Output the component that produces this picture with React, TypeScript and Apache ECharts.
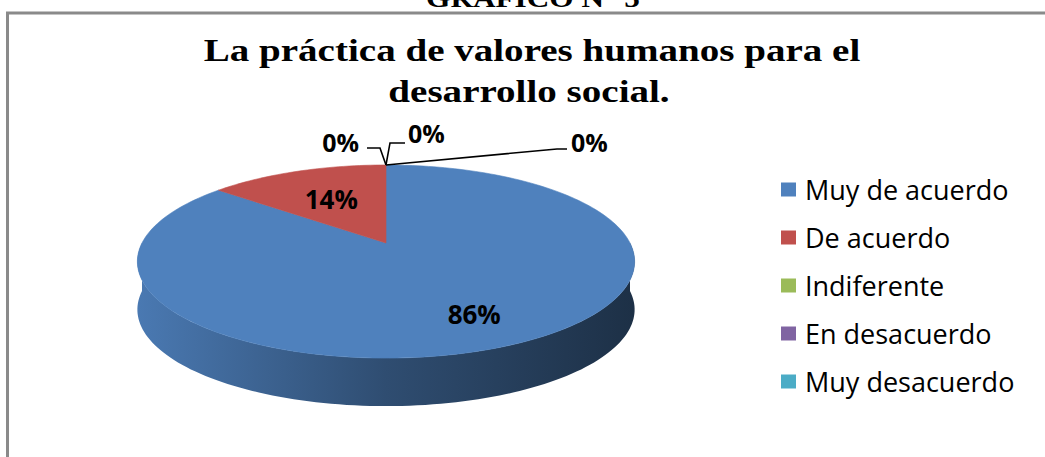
import React, { useEffect, useRef } from "react";
import * as echarts from "echarts";

// ---- data ----
const categories = ["Muy de acuerdo", "De acuerdo", "Indiferente", "En desacuerdo", "Muy desacuerdo"];
const values = [86, 14, 0, 0, 0];
const colors = ["#4f81bd", "#c0504d", "#9bbb59", "#8064a2", "#4bacc6"];
const titleLines = ["La práctica de valores humanos para el", "desarrollo social."];
const captionText = "GRAFICO N° 5";

// ---- layout (not data) ----
const CX = 386;
const CY = 243;
const RY = 93;
const RX = 244;
const K = 0.192;
const DEPTH = 48;
const insideLabelRadius = [0.74, 0.58, 0.6, 0.6, 0.6];
// leader lines for zero slices: points relative to slice anchor, then label offset + align
const zeroLabelLayout: Record<number, { pts: number[][]; label: number[]; align: string }> = {
  2: { pts: [[0, 0], [-6, -17], [-19, -17]], label: [-27, -23], align: "right" },
  3: { pts: [[0, 0], [4, -22], [19, -22]], label: [22, -32], align: "left" },
  4: { pts: [[0, 0], [171, -16], [181, -16]], label: [185, -23], align: "left" },
};

const total = values.reduce((a, b) => a + b, 0);
const startAngles: number[] = [];
{
  let acc = 90;
  values.forEach((v) => {
    startAngles.push(acc);
    acc -= (v / total) * 360;
  });
}

function project(f: number, deg: number): number[] {
  const t = (deg * Math.PI) / 180;
  const s = Math.sin(t);
  const c = Math.cos(t);
  const d = 1 + K * f * s;
  return [CX + (RX * f * c) / d, CY - (RY * f * s) / d];
}

function shade(hex: string, k: number): string {
  const n = parseInt(hex.slice(1), 16);
  const r = Math.round(((n >> 16) & 255) * k);
  const g = Math.round(((n >> 8) & 255) * k);
  const b = Math.round((n & 255) * k);
  return `rgb(${r},${g},${b})`;
}

const labelFont = { fontFamily: "Open Sans", fontWeight: "bold" as const, fill: "#000" };

function renderItem(params: any, api: any) {
  const i = params.dataIndex;
  const v = api.value(0) as number;
  const span = (v / total) * 360;
  const a0 = startAngles[i];
  const a1 = a0 - span;
  const children: any[] = [];
  const pct = Math.round((v / total) * 100) + "%";
  if (span > 0) {
    const steps = Math.max(2, Math.ceil(span / 1.5));
    const pts: number[][] = [[CX, CY]];
    for (let s = 0; s <= steps; s++) pts.push(project(1, a0 - (span * s) / steps));
    children.push({
      type: "polygon",
      z2: 5,
      shape: { points: pts },
      style: { fill: colors[i], stroke: colors[i], lineWidth: 0.6 },
    });
    for (const k of [-2, -1, 0, 1]) {
      const lo = Math.max(a1, -180 + 360 * k);
      const hi = Math.min(a0, 360 * k);
      if (hi > lo) {
        const n = Math.max(2, Math.ceil((hi - lo) / 1.5));
        const top: number[][] = [];
        for (let s = 0; s <= n; s++) top.push(project(1, hi - ((hi - lo) * s) / n));
        const bottom = top.map((p) => [p[0], p[1] + DEPTH]).reverse();
        children.push({
          type: "polygon",
          z2: 1,
          shape: { points: top.concat(bottom) },
          style: {
            fill: {
              type: "linear",
              x: CX - RX * 1.02,
              y: 0,
              x2: CX + RX * 1.02,
              y2: 0,
              global: true,
              colorStops: [
                { offset: 0, color: shade(colors[i], 0.94) },
                { offset: 0.5, color: shade(colors[i], 0.6) },
                { offset: 1, color: shade(colors[i], 0.37) },
              ],
            },
          },
        });
      }
    }
    const mid = a0 - span / 2;
    const lp = project(insideLabelRadius[i], mid);
    children.push({
      type: "text",
      z2: 10,
      x: lp[0],
      y: lp[1],
      style: { ...labelFont, fontSize: 26, text: pct, align: "center", verticalAlign: "middle" },
    });
  } else {
    const lay = zeroLabelLayout[i];
    if (lay) {
      const anchor = project(1, a0);
      children.push({
        type: "polyline",
        z2: 9,
        shape: { points: lay.pts.map((p) => [anchor[0] + p[0], anchor[1] + p[1]]) },
        style: { stroke: "#000", lineWidth: 1.6, fill: "none" },
      });
      children.push({
        type: "text",
        z2: 10,
        x: anchor[0] + lay.label[0],
        y: anchor[1] + lay.label[1],
        style: { ...labelFont, fontSize: 25, text: pct, align: lay.align, verticalAlign: "middle" },
      });
    }
  }
  return { type: "group", children };
}

export default function App() {
  const ref = useRef<HTMLDivElement>(null);
  useEffect(() => {
    if (!ref.current) return;
    const chart = echarts.init(ref.current, undefined, { renderer: "svg" });
    const serif = "'Liberation Serif', 'Times New Roman', serif";
    chart.setOption({
      animation: false,
      backgroundColor: "#ffffff",
      legend: {
        orient: "vertical",
        left: 776,
        top: 171,
        itemWidth: 15,
        itemHeight: 14,
        itemGap: 21,
        icon: "rect",
        selectedMode: false,
        data: categories,
        textStyle: { fontFamily: "Open Sans", fontSize: 27, lineHeight: 27, color: "#000", padding: [0, 0, 0, 4] },
      },
      graphic: [
        { type: "line", shape: { x1: 7.5, y1: 13, x2: 7.5, y2: 457 }, style: { stroke: "#8a8a8a", lineWidth: 3 } },
        { type: "line", shape: { x1: 6, y1: 13, x2: 1045, y2: 13 }, style: { stroke: "#8a8a8a", lineWidth: 3 } },
        {
          type: "text",
          x: 533,
          y: -1,
          scaleX: 1.25,
          style: { text: captionText, fontFamily: serif, fontWeight: "bold", fontSize: 25, fill: "#000", align: "center", verticalAlign: "middle" },
        },
        {
          type: "text",
          x: 532,
          y: 51,
          scaleX: 1.26,
          style: { text: titleLines[0], fontFamily: serif, fontWeight: "bold", fontSize: 31, fill: "#000", align: "center", verticalAlign: "middle" },
        },
        {
          type: "text",
          x: 529,
          y: 92,
          scaleX: 1.26,
          style: { text: titleLines[1], fontFamily: serif, fontWeight: "bold", fontSize: 31, fill: "#000", align: "center", verticalAlign: "middle" },
        },
      ],
      series: [
        {
          type: "pie",
          name: "legend",
          radius: 0,
          center: [-50, -50],
          silent: true,
          label: { show: false },
          labelLine: { show: false },
          data: categories.map((c, i) => ({ name: c, value: values[i], itemStyle: { color: colors[i] } })),
        },
        {
          type: "custom",
          name: "pie3d",
          coordinateSystem: "none",
          renderItem,
          silent: true,
          data: values.map((v, i) => ({ name: categories[i], value: [v] })),
        },
      ],
    });
    return () => chart.dispose();
  }, []);
  return <div ref={ref} style={{ position: "fixed", left: 0, top: 0, width: 1045, height: 457 }} />;
}
